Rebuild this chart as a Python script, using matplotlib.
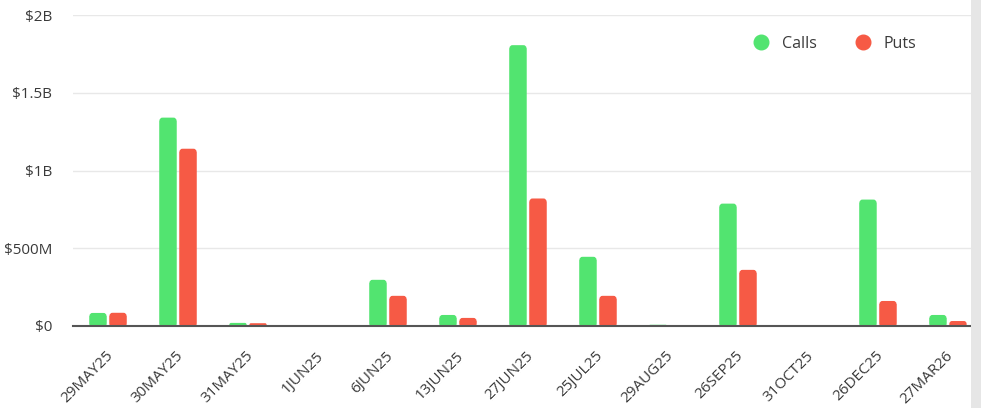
import numpy as np
import matplotlib
matplotlib.use('Agg')
import matplotlib.pyplot as plt
import matplotlib.transforms as mtransforms
from matplotlib.lines import Line2D
from matplotlib.patches import Rectangle, FancyBboxPatch

plt.rcParams['font.family'] = ['Open Sans', 'DejaVu Sans']

# expiry dates and notional open interest (USD)
expiries = ['29MAY25', '30MAY25', '31MAY25', '1JUN25', '6JUN25', '13JUN25', '27JUN25',
            '25JUL25', '29AUG25', '26SEP25', '31OCT25', '26DEC25', '27MAR26']
calls = [84e6, 1340e6, 20e6, 0, 297e6, 71e6, 1806e6, 445e6, 8e6, 787e6, 0, 813e6, 71e6]
puts = [85e6, 1140e6, 18e6, 0, 194e6, 52e6, 820e6, 194e6, 0, 361e6, 0, 161e6, 32e6]

y_ticks = [0, 500e6, 1000e6, 1500e6, 2000e6]
y_labels = ['$0', '$500M', '$1B', '$1.5B', '$2B']

green = '#52e470'
red = '#f65a45'
text_col = '#3a3a3a'

fig = plt.figure(figsize=(9.81, 4.08), dpi=100)
ax = fig.add_axes([73 / 981, 82 / 408, 898 / 981, 311 / 408])

x = np.arange(len(expiries))
w = 0.243
off = 0.143
bars_c = ax.bar(x - off, calls, width=w, color=green, zorder=3)
bars_p = ax.bar(x + off, puts, width=w, color=red, zorder=3)

# round the top corners: bar keeps the flat bottom, a rounded box covers the top
aspect = (2e9 / 311) / (1 / 70)
r = 3 / 70
for bars, col in [(bars_c, green), (bars_p, red)]:
    for b in bars:
        b.set_snap(False)
        h = b.get_height()
        if h <= 0:
            continue
        rs = min(r, h / aspect / 2)
        b.set_height(max(h - rs * aspect, 0))
        ax.add_patch(FancyBboxPatch((b.get_x(), 0), b.get_width(), h,
                                    boxstyle=f'round,pad=0,rounding_size={rs}',
                                    mutation_aspect=aspect, facecolor=col,
                                    edgecolor='none', zorder=3, snap=False))

ax.set_xlim(-0.5, 12.329)
ax.set_ylim(0, 2e9)
ax.set_yticks(y_ticks)
ax.set_yticklabels(y_labels, fontsize=11, color=text_col)
ax.set_xticks(x)
ax.set_xticklabels(expiries, rotation=45, ha='right', va='center',
                   rotation_mode='anchor', fontsize=11, color=text_col)
ax.tick_params(axis='y', length=0, pad=15)
ax.tick_params(axis='x', length=0, pad=20)
shift = mtransforms.ScaledTranslation(3 / 100, 0, fig.dpi_scale_trans)
for lbl in ax.get_xticklabels():
    lbl.set_transform(lbl.get_transform() + shift)

ax.grid(axis='y', color='#e8e8e8', linewidth=1, zorder=0)
for s in ['top', 'right', 'left']:
    ax.spines[s].set_visible(False)
ax.spines['bottom'].set_color('#555555')
ax.spines['bottom'].set_linewidth(1.5)
ax.spines['bottom'].set_zorder(4)

handles = [Line2D([], [], marker='o', linestyle='', markersize=10.5,
                  markerfacecolor=green, markeredgecolor=green, label='Calls'),
           Line2D([], [], marker='o', linestyle='', markersize=10.5,
                  markerfacecolor=red, markeredgecolor=red, label='Puts')]
fig.legend(handles=handles, ncol=2, frameon=False, fontsize=11.5,
           loc='center', bbox_to_anchor=(831 / 981, 1 - 44 / 408),
           handletextpad=0.3, columnspacing=1.9, labelcolor=text_col)

# grey strip on the right edge
fig.patches.append(Rectangle((971 / 981, 0), 10 / 981, 1, transform=fig.transFigure,
                             facecolor='#e6e6e6', edgecolor='none', zorder=5))

fig.savefig('out.png', dpi=100)
